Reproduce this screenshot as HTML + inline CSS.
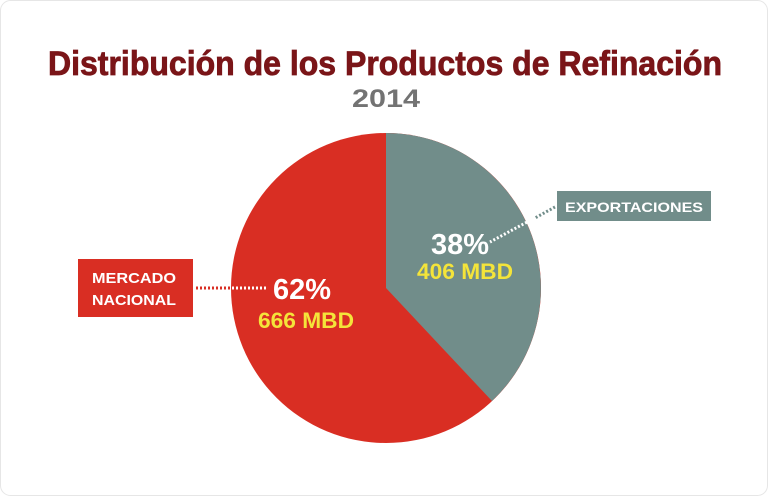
<!DOCTYPE html>
<html><head><meta charset="utf-8"><style>
html,body{margin:0;padding:0;background:#fff;}
svg{display:block;}
text{font-family:"Liberation Sans",sans-serif;font-weight:bold;}
</style></head><body>
<svg width="768" height="496" viewBox="0 0 768 496" xmlns="http://www.w3.org/2000/svg">
<rect x="0.5" y="0.5" width="767" height="495" rx="10" fill="#fff" stroke="#e6e6e6"/>
<text x="48" y="75" font-size="34" fill="#7a1518" stroke="#7a1518" stroke-width="0.8" textLength="674" lengthAdjust="spacingAndGlyphs">Distribución de los Productos de Refinación</text>
<text x="386" y="107" font-size="25" fill="#737373" text-anchor="middle" textLength="68" lengthAdjust="spacingAndGlyphs">2014</text>
<circle cx="386" cy="288" r="155" fill="#d92e23"/>
<path d="M386,288 L386,133 A155,155 0 0 1 492,401 Z" fill="#718d8a"/>
<rect x="78" y="259" width="115" height="58" fill="#d92e23"/>
<text x="92" y="283" font-size="15" fill="#fff" textLength="84" lengthAdjust="spacingAndGlyphs">MERCADO</text>
<text x="92" y="305" font-size="15" fill="#fff" textLength="84" lengthAdjust="spacingAndGlyphs">NACIONAL</text>
<rect x="557" y="191" width="154" height="30" fill="#718d8a"/>
<text x="634" y="212" font-size="14" fill="#fff" text-anchor="middle" textLength="138" lengthAdjust="spacingAndGlyphs">EXPORTACIONES</text>
<line x1="196" y1="288" x2="268" y2="288" stroke="#fff" stroke-width="3" stroke-dasharray="2 2"/>
<line x1="196" y1="288" x2="232" y2="288" stroke="#d92e23" stroke-width="3" stroke-dasharray="2 2"/>
<line x1="555" y1="207" x2="490" y2="242" stroke="#fff" stroke-width="3" stroke-dasharray="2 2"/>
<line x1="555" y1="207" x2="535" y2="218" stroke="#718d8a" stroke-width="3" stroke-dasharray="2 2"/>
<text x="302" y="299" font-size="29" fill="#fff" text-anchor="middle" textLength="58" lengthAdjust="spacingAndGlyphs">62%</text>
<text x="306" y="328" font-size="22" fill="#f4e43a" text-anchor="middle" textLength="96" lengthAdjust="spacingAndGlyphs">666 MBD</text>
<text x="460" y="254" font-size="29" fill="#fff" text-anchor="middle" textLength="58" lengthAdjust="spacingAndGlyphs">38%</text>
<text x="465" y="279" font-size="22" fill="#f4e43a" text-anchor="middle" textLength="96" lengthAdjust="spacingAndGlyphs">406 MBD</text>
</svg>
</body></html>
